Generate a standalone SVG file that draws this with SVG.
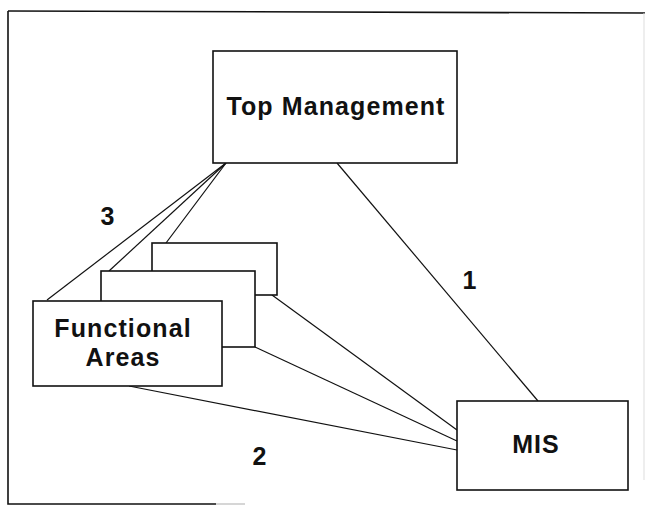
<svg xmlns="http://www.w3.org/2000/svg" width="645" height="507" viewBox="0 0 645 507">
<style>
.box{fill:#fff;stroke:#111;stroke-width:1.6}
.ln{stroke:#111;stroke-width:1.2;fill:none}
.fr{stroke:#111;stroke-width:1.6;fill:none}
.t{font-family:"Liberation Sans",Arial,sans-serif;font-weight:bold;font-size:25px;fill:#111;text-anchor:middle;letter-spacing:1.1px}
</style>
<rect width="645" height="507" fill="#fff"/>
<g id="frame">
<path class="fr" d="M8,11 L645,13"/>
<path class="fr" d="M8,11 L8,504 L216,504"/>
<path d="M216,504 L245,504" stroke="#bbb" stroke-width="1.2"/>
<path d="M644,13 L644,480" stroke="#ddd" stroke-width="1"/>
</g>
<g id="connectors">
<line class="ln" x1="226" y1="163" x2="166" y2="243"/>
<line class="ln" x1="226" y1="163" x2="109" y2="271"/>
<line class="ln" x1="226" y1="163" x2="47" y2="300"/>
<line class="ln" x1="337" y1="163" x2="538" y2="401"/>
<line class="ln" x1="272" y1="295" x2="457" y2="430"/>
<line class="ln" x1="255" y1="347" x2="457" y2="441"/>
<line class="ln" x1="129" y1="386" x2="457" y2="450"/>
</g>
<g id="top-management">
<rect class="box" x="213" y="51" width="244" height="112"/>
<text class="t" x="336" y="115">Top Management</text>
</g>
<g id="functional-back">
<rect class="box" x="152" y="243" width="125" height="52"/>
</g>
<g id="functional-middle">
<rect class="box" x="101" y="271" width="154" height="76"/>
</g>
<g id="functional-areas">
<rect class="box" x="33" y="301" width="189" height="85"/>
<text class="t" x="123" y="337">Functional</text>
<text class="t" x="123" y="366">Areas</text>
</g>
<g id="mis">
<rect class="box" x="457" y="401" width="171" height="89"/>
<text class="t" x="536" y="453">MIS</text>
</g>
<g id="labels">
<text class="t" x="108" y="225">3</text>
<text class="t" x="260" y="465">2</text>
<text class="t" x="470" y="289">1</text>
</g>
</svg>
